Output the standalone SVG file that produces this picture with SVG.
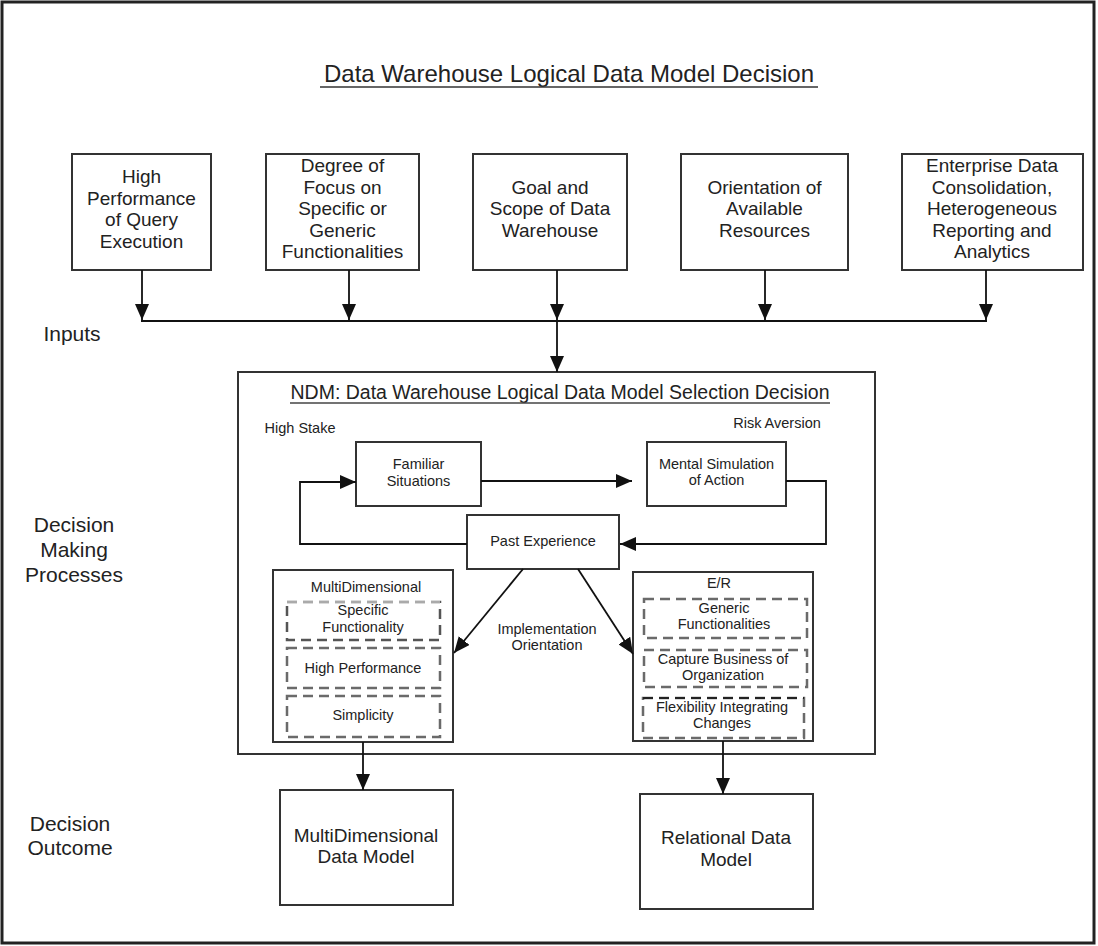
<svg xmlns="http://www.w3.org/2000/svg" width="1098" height="946" viewBox="0 0 1098 946">
<style>
text{font-family:"Liberation Sans",Arial,sans-serif;fill:#222;text-anchor:middle}
.t{font-size:24px}
.h{font-size:19.5px}
.b{font-size:19px}
.l{font-size:21px}
.s{font-size:14.5px}
.box{fill:#fff;stroke:#333;stroke-width:2}
.dash{fill:none;stroke:#6a6a6a;stroke-width:2.5;stroke-dasharray:10 6}
.c{fill:none;stroke:#111;stroke-width:1.8}
</style>
<defs>
<marker id="a" markerUnits="userSpaceOnUse" markerWidth="18" markerHeight="14" refX="16" refY="7" orient="auto">
<path d="M0,0 L16,7 L0,14 z" fill="#111"/>
</marker>
</defs>
<rect x="0" y="0" width="1098" height="946" fill="#fff"/>
<rect x="2" y="2" width="1092" height="941" fill="none" stroke="#222" stroke-width="3"/>
<g id="title">
<text class="t" x="569" y="82">Data Warehouse Logical Data Model Decision</text>
<line x1="320" y1="87" x2="818" y2="87" stroke="#333" stroke-width="1.5"/>
</g>
<g id="in1">
<rect class="box" x="72" y="154" width="139" height="116"/>
<text class="b"><tspan x="141.5" y="183">High</tspan><tspan x="141.5" y="204.5">Performance</tspan><tspan x="141.5" y="226">of Query</tspan><tspan x="141.5" y="247.5">Execution</tspan></text>
</g>
<g id="in2">
<rect class="box" x="266" y="154" width="153" height="116"/>
<text class="b"><tspan x="342.5" y="172">Degree of</tspan><tspan x="342.5" y="193.5">Focus on</tspan><tspan x="342.5" y="215">Specific or</tspan><tspan x="342.5" y="236.5">Generic</tspan><tspan x="342.5" y="258">Functionalities</tspan></text>
</g>
<g id="in3">
<rect class="box" x="473" y="154" width="154" height="116"/>
<text class="b"><tspan x="550" y="193.5">Goal and</tspan><tspan x="550" y="215">Scope of Data</tspan><tspan x="550" y="236.5">Warehouse</tspan></text>
</g>
<g id="in4">
<rect class="box" x="681" y="154" width="167" height="116"/>
<text class="b"><tspan x="764.5" y="193.5">Orientation of</tspan><tspan x="764.5" y="215">Available</tspan><tspan x="764.5" y="236.5">Resources</tspan></text>
</g>
<g id="in5">
<rect class="box" x="902" y="154" width="181" height="116"/>
<text class="b"><tspan x="992" y="172">Enterprise Data</tspan><tspan x="992" y="193.5">Consolidation,</tspan><tspan x="992" y="215">Heterogeneous</tspan><tspan x="992" y="236.5">Reporting and</tspan><tspan x="992" y="258">Analytics</tspan></text>
</g>
<g id="labels">
<text class="l" x="72" y="341">Inputs</text>
<text class="l"><tspan x="74" y="532">Decision</tspan><tspan x="74" y="557">Making</tspan><tspan x="74" y="582">Processes</tspan></text>
<text class="l"><tspan x="70" y="831">Decision</tspan><tspan x="70" y="855">Outcome</tspan></text>
</g>
<g id="ndm">
<rect class="box" x="238" y="372" width="637" height="382"/>
<text class="h" x="560" y="399">NDM: Data Warehouse Logical Data Model Selection Decision</text>
<line x1="290" y1="403" x2="830" y2="403" stroke="#444" stroke-width="1.3"/>
<text class="s" x="300" y="433">High Stake</text>
<text class="s" x="777" y="428">Risk Aversion</text>
<text class="s"><tspan x="547" y="634">Implementation</tspan><tspan x="547" y="650">Orientation</tspan></text>
</g>
<g id="familiar">
<rect class="box" x="356" y="442" width="125" height="64"/>
<text class="s"><tspan x="418.5" y="469">Familiar</tspan><tspan x="418.5" y="486">Situations</tspan></text>
</g>
<g id="mental">
<rect class="box" x="647" y="442" width="139" height="64"/>
<text class="s"><tspan x="716.5" y="469">Mental Simulation</tspan><tspan x="716.5" y="485">of Action</tspan></text>
</g>
<g id="past">
<rect class="box" x="467" y="515" width="152" height="54"/>
<text class="s" x="543" y="546">Past Experience</text>
</g>
<g id="md">
<rect class="box" x="273" y="570" width="180" height="172"/>
<text class="s" x="366" y="592">MultiDimensional</text>
<rect class="dash" x="287" y="602" width="153" height="38" style="stroke:#555"/>
<line x1="287" y1="602" x2="440" y2="602" stroke="#fff" stroke-width="3"/>
<line x1="287" y1="602" x2="440" y2="602" stroke="#aaa" stroke-width="2.5" stroke-dasharray="10 6"/>
<text class="s"><tspan x="363" y="615">Specific</tspan><tspan x="363" y="632">Functionality</tspan></text>
<rect class="dash" x="287" y="648" width="153" height="40"/>
<text class="s" x="363" y="673">High Performance</text>
<rect class="dash" x="287" y="696" width="153" height="41"/>
<text class="s" x="363" y="720">Simplicity</text>
</g>
<g id="er">
<rect class="box" x="633" y="572" width="180" height="169"/>
<text class="s" x="719" y="588">E/R</text>
<rect class="dash" x="644" y="599" width="163" height="39"/>
<text class="s"><tspan x="724" y="613">Generic</tspan><tspan x="724" y="629">Functionalities</tspan></text>
<rect class="dash" x="644" y="650" width="163" height="37"/>
<text class="s"><tspan x="723" y="664">Capture Business of</tspan><tspan x="723" y="680">Organization</tspan></text>
<rect class="dash" x="643" y="698" width="161" height="40"/>
<line x1="643" y1="698" x2="804" y2="698" stroke="#222" stroke-width="2" stroke-dasharray="10 6"/>
<text class="s"><tspan x="722" y="712">Flexibility Integrating</tspan><tspan x="722" y="728">Changes</tspan></text>
</g>
<g id="outMD">
<rect class="box" x="280" y="790" width="173" height="115"/>
<text class="b"><tspan x="366" y="842">MultiDimensional</tspan><tspan x="366" y="863">Data Model</tspan></text>
</g>
<g id="outRel">
<rect class="box" x="640" y="794" width="173" height="115"/>
<text class="b"><tspan x="726" y="844">Relational Data</tspan><tspan x="726" y="866">Model</tspan></text>
</g>
<g id="connectors">
<line class="c" x1="142" y1="270" x2="142" y2="320" marker-end="url(#a)"/>
<line class="c" x1="349" y1="270" x2="349" y2="320" marker-end="url(#a)"/>
<line class="c" x1="557" y1="270" x2="557" y2="320" marker-end="url(#a)"/>
<line class="c" x1="765" y1="270" x2="765" y2="320" marker-end="url(#a)"/>
<line class="c" x1="986" y1="270" x2="986" y2="320" marker-end="url(#a)"/>
<line class="c" x1="141" y1="321" x2="987" y2="321"/>
<line class="c" x1="557" y1="321" x2="557" y2="372" marker-end="url(#a)"/>
<line class="c" x1="481" y1="481" x2="632" y2="481" marker-end="url(#a)"/>
<polyline class="c" points="467,544 300,544 300,482 356,482" marker-end="url(#a)"/>
<polyline class="c" points="786,481 826,481 826,544 620,544" marker-end="url(#a)"/>
<line class="c" x1="523" y1="569" x2="454" y2="653" marker-end="url(#a)"/>
<line class="c" x1="578" y1="569" x2="633" y2="654" marker-end="url(#a)"/>
<line class="c" x1="363" y1="742" x2="363" y2="790" marker-end="url(#a)"/>
<line class="c" x1="723" y1="741" x2="723" y2="794" marker-end="url(#a)"/>
</g>
</svg>
